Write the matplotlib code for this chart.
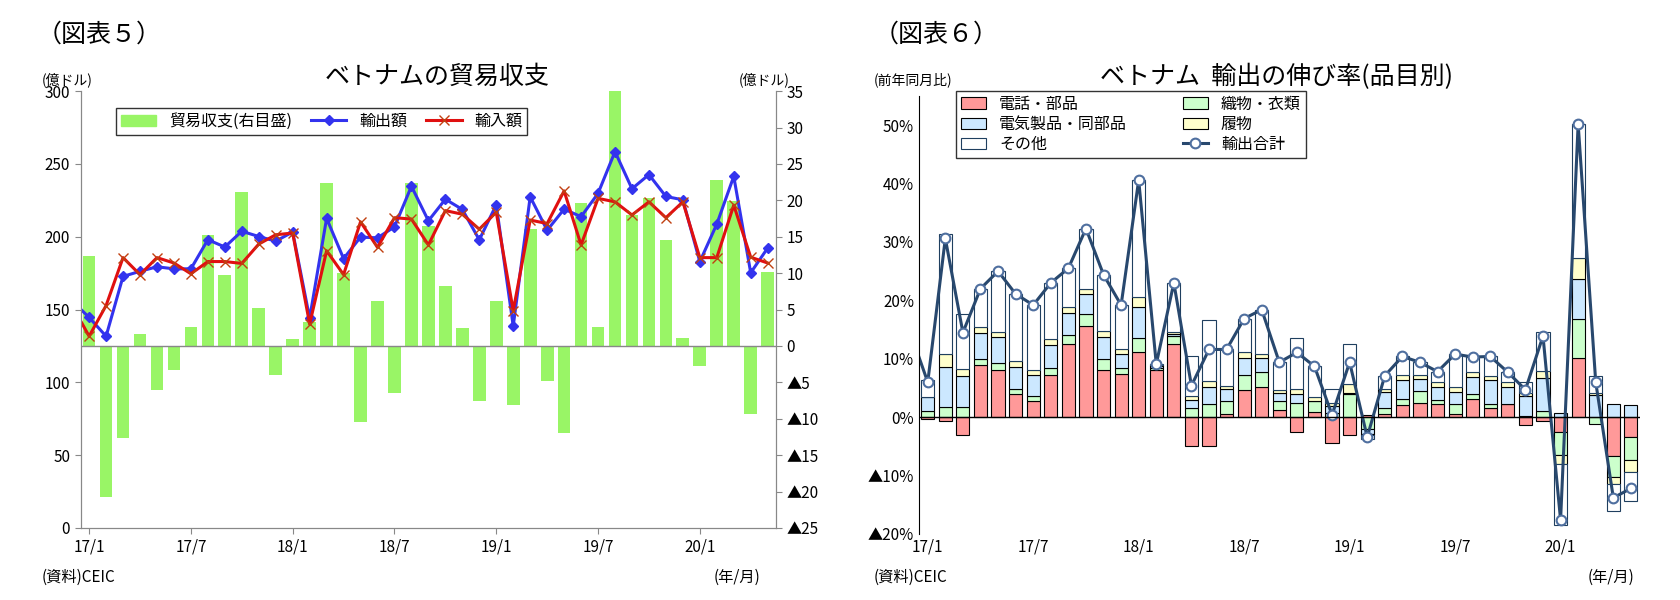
import matplotlib
matplotlib.use('Agg')
import matplotlib.pyplot as plt
import numpy as np
from matplotlib.patches import Patch

plt.rcParams['font.family'] = 'Noto Sans CJK JP'
plt.rcParams['font.size'] = 11

# ---- 図表5: trade balance (index 0 = 16/12, 1..41 = 17/1..20/5)
balance = [12.4, -20.8, -12.7, 1.7, -6.0, -3.3, 2.6, 15.2, 9.7, 21.1, 5.2, -4.0,
           1.0, 3.3, 22.4, 10.0, -10.4, 6.2, -6.4, 22.4, 16.5, 8.3, 2.5, -7.5,
           6.2, -8.1, 16.1, -4.8, -11.9, 19.7, 2.6, 35.0, 18.0, 20.3, 14.6, 1.1,
           -2.7, 22.8, 19.9, -9.4, 10.1]
exports = [156, 144.6, 131.7, 172.8, 176.3, 179.4, 178, 178, 198, 193, 203.8, 200.2,
           197, 203.3, 144.1, 212.7, 185, 199.8, 199.3, 206.8, 234.7, 211, 225.8,
           218.8, 197.9, 222, 138.7, 227.5, 204.5, 219, 213.8, 229.8, 258.5, 233,
           242.7, 227.7, 225.4, 182.9, 208.7, 241.5, 175.3, 192.3]
imports = [152.8, 131.7, 152.8, 185.7, 174, 185.7, 182, 174.6, 183, 183, 181.7, 195,
           201.4, 202.6, 140, 190.4, 174, 210.3, 192.7, 213.1, 212.2, 194.4, 218,
           215.5, 205.2, 216.9, 149.3, 211.5, 209.1, 231.5, 194.4, 226.4, 224, 215,
           224, 213.1, 224, 185.7, 185.7, 221.7, 186, 182]

# ---- 図表6: export growth by item (%), 17/1..20/5; total line includes 16/12 at front
phone = [-0.3, -0.7, -3.1, 9.0, 8.1, 4.0, 2.7, 7.2, 12.6, 15.7, 8.1, 7.4, 11.2, 8.0,
         12.6, -5.0, -5.0, 0.5, 4.6, 5.1, 1.2, -2.5, 0.9, -4.5, -3.1, 0.4, 0.6, 2.1,
         2.5, 2.3, 0.5, 3.2, 1.6, 2.2, -1.3, -0.7, -2.6, 10.2, 0.0, -6.7, -3.4]
textile = [1.0, 1.8, 1.8, 0.9, 1.1, 0.8, 0.9, 1.2, 1.4, 2.0, 1.8, 1.1, 2.3, 0.5, 1.3,
           1.6, 2.3, 2.2, 2.7, 2.6, 1.5, 2.5, 1.9, 0.8, 3.9, -2.0, 1.0, 1.1, 2.0, 0.6,
           1.7, 0.8, 0.7, 0.0, 0.2, 1.1, -3.8, 6.6, -1.1, -3.6, -4.0]
electric = [2.5, 6.8, 5.2, 4.6, 4.5, 3.8, 3.6, 3.9, 3.8, 3.4, 3.9, 2.4, 5.4, 0.3, 0.3,
            1.3, 2.9, 2.2, 2.9, 2.5, 1.4, 1.5, 0.0, 1.1, 0.3, -0.8, 2.8, 3.1, 2.0, 2.2,
            2.1, 2.9, 4.0, 3.0, 3.5, 5.6, 0.8, 6.9, 3.8, 2.3, 2.1]
shoes = [0.0, 2.2, 1.2, 1.0, 0.9, 1.1, 0.9, 1.1, 1.1, 0.9, 0.9, 0.8, 1.6, 0.2, 0.4,
         0.7, 1.0, 0.5, 0.9, 0.6, 0.5, 0.9, 0.7, 0.6, 1.4, -0.3, 0.5, 1.0, 0.8, 0.9,
         0.8, 0.8, 0.8, 0.8, 0.5, 1.2, -1.6, 3.6, 0.3, -1.2, -2.0]
total = [14.6, 6.0, 30.6, 14.5, 22.0, 25.0, 21.1, 19.2, 23.0, 25.5, 32.3, 24.4, 19.2,
         40.6, 9.1, 23.0, 5.4, 11.6, 11.6, 16.9, 18.4, 9.4, 11.1, 8.7, 0.4, 9.4, -3.4,
         7.1, 10.4, 9.4, 7.8, 10.8, 10.3, 10.4, 7.7, 4.7, 13.9, -17.6, 50.2, 6.0,
         -13.8, -12.2]
tick_labels = ['17/1', '17/7', '18/1', '18/7', '19/1', '19/7', '20/1']

fig = plt.figure(figsize=(16.8, 6.0), dpi=100)

# ================= left panel =================
ax = fig.add_axes([0.048, 0.12, 0.414, 0.728])
axr = ax.twinx()
x = np.arange(1, len(balance) + 1)
xl = np.arange(0, len(exports))
axr.bar(x, balance, width=0.75, color='#99F566', zorder=1)
axr.set_ylim(-25, 35)
axr.set_yticks(range(-25, 40, 5))
axr.set_yticklabels([('▲%d' % -v) if v < 0 else str(v) for v in range(-25, 40, 5)])
ax.set_zorder(axr.get_zorder() + 1)
ax.patch.set_visible(False)
ax.plot(xl, exports, color='#3333EE', lw=2.2, marker='D', ms=5, label='輸出額')
ax.plot(xl, imports, color='#E01010', lw=2.2, marker='x', ms=7, mec='#C04010', label='輸入額')
ax.set_ylim(0, 300)
ax.set_xlim(0.5, 41.5)
ax.set_yticks(range(0, 301, 50))
ax.set_xticks([1, 7, 13, 19, 25, 31, 37])
ax.set_xticklabels(tick_labels)
axr.axhline(0, color='#888888', lw=1)
for a in (ax, axr):
    for s in a.spines.values():
        s.set_color('#888888')
    a.spines['top'].set_visible(False)
ax.tick_params(length=4, color='#888888')
axr.tick_params(length=4, color='#888888')
h = [Patch(color='#99F566', label='貿易収支(右目盛)')] + ax.get_legend_handles_labels()[0]
ax.legend(handles=h, loc='upper left', bbox_to_anchor=(0.04, 0.98), ncol=3,
          frameon=True, fancybox=False, edgecolor='black', fontsize=11.5,
          handlelength=2.2, columnspacing=1.2, borderpad=0.3)
fig.text(0.022, 0.93, '（図表５）', fontsize=18)
fig.text(0.025, 0.86, '(億ドル)', fontsize=10)
fig.text(0.44, 0.86, '(億ドル)', fontsize=10)
fig.text(0.26, 0.86, 'ベトナムの貿易収支', fontsize=18, ha='center')
fig.text(0.025, 0.03, '(資料)CEIC', fontsize=11)
fig.text(0.425, 0.03, '(年/月)', fontsize=11)

# ================= right panel =================
bx = fig.add_axes([0.547, 0.11, 0.429, 0.73])
n = len(phone)
xb = np.arange(1, n + 1)
comps = [np.array(phone), np.array(textile), np.array(electric), np.array(shoes)]
other = np.array(total[1:]) - sum(comps)
series = [(comps[0], '#FF9999', '電話・部品'), (comps[1], '#CCFFCC', '織物・衣類'),
          (comps[2], '#CCE8FF', '電気製品・同部品'), (comps[3], '#FFFFCC', '履物'),
          (other, 'white', 'その他')]
pos = np.zeros(n)
neg = np.zeros(n)
handles = {}
for vals, col, lab in series:
    bottoms = np.where(vals >= 0, pos, neg)
    ec = '#1F3F5F' if lab == 'その他' else 'black'
    b = bx.bar(xb, vals, bottom=bottoms, width=0.75, color=col, edgecolor=ec, lw=0.8, label=lab)
    handles[lab] = b
    pos = pos + np.where(vals >= 0, vals, 0)
    neg = neg + np.where(vals < 0, vals, 0)
ln, = bx.plot(np.arange(0, n + 1), total, color='#28486E', lw=2.2, marker='o', ms=7,
              mfc='white', mec='#4F6F9F', mew=1.5, label='輸出合計')
bx.axhline(0, color='black', lw=1)
bx.set_ylim(-20, 55)
bx.set_xlim(0.5, n + 0.5)
yt = [-20, -10, 0, 10, 20, 30, 40, 50]
bx.set_yticks(yt)
bx.set_yticklabels([('▲%d%%' % -v) if v < 0 else '%d%%' % v for v in yt])
bx.set_xticks([1, 7, 13, 19, 25, 31, 37])
bx.set_xticklabels(tick_labels)
bx.tick_params(length=0)
for s in ('top', 'right', 'bottom'):
    bx.spines[s].set_visible(False)
order = ['電話・部品', '電気製品・同部品', 'その他', '織物・衣類', '履物']
hl = [handles[k] for k in order] + [ln]
bx.legend(handles=hl, labels=order + ['輸出合計'], ncol=2, loc='upper left',
          bbox_to_anchor=(0.04, 1.03), frameon=True, fancybox=False, edgecolor='black',
          fontsize=11.5, handlelength=1.6, columnspacing=3.5, borderpad=0.3, labelspacing=0.2)
fig.text(0.52, 0.93, '（図表６）', fontsize=18)
fig.text(0.52, 0.86, '(前年同月比)', fontsize=10)
fig.text(0.76, 0.86, 'ベトナム  輸出の伸び率(品目別)', fontsize=18, ha='center')
fig.text(0.52, 0.03, '(資料)CEIC', fontsize=11)
fig.text(0.945, 0.03, '(年/月)', fontsize=11)

fig.savefig('out.png', dpi=100)
